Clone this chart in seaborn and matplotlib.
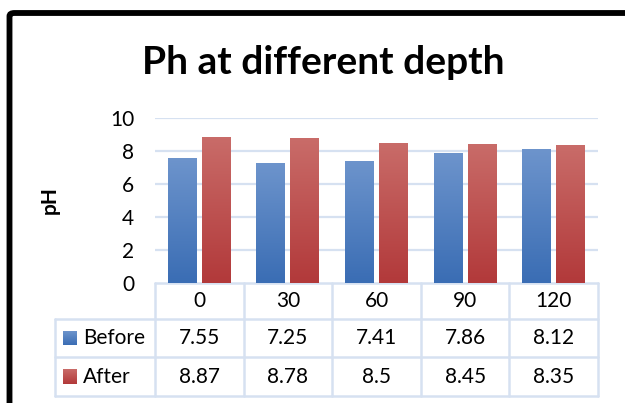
##############################################################################
#### pH at different depth - bar chart with data table
##############################################################################
import numpy as np
import pandas as pd
import seaborn as sns
import matplotlib.pyplot as plt
from matplotlib.lines import Line2D
from matplotlib.patches import Rectangle, FancyBboxPatch
from matplotlib.colors import LinearSegmentedColormap

###########
# Data
depths = ["0", "30", "60", "90", "120"]
before = [7.55, 7.25, 7.41, 7.86, 8.12]
after = [8.87, 8.78, 8.5, 8.45, 8.35]
series_names = ["Before", "After"]
yticks = [0, 2, 4, 6, 8, 10]

df = pd.DataFrame({
    "Depth": depths * 2,
    "pH": before + after,
    "Series": ["Before"] * len(depths) + ["After"] * len(depths),
})

###########
# Style
sns.set_theme(style="white")
plt.rcParams["font.family"] = ["Lato", "DejaVu Sans"]
plt.rcParams["text.color"] = "black"
plt.rcParams["axes.labelcolor"] = "black"
plt.rcParams["ytick.color"] = "black"

W, H = 625, 403
fig = plt.figure(figsize=(W / 100, H / 100), dpi=100)
ax = fig.add_axes([155 / W, 1 - 283 / H, 443 / W, 165 / H])

grid_col = "#D6E1F1"
blue_top, blue_bot = "#6D94CC", "#3A6DB4"
red_top, red_bot = "#C96C69", "#B2393A"
palette = {"Before": blue_bot, "After": red_bot}
fs = 15

sns.barplot(data=df, x="Depth", y="pH", hue="Series", order=depths,
            hue_order=series_names, palette=palette, width=0.77, gap=0.15,
            legend=False, ax=ax, zorder=3)

ax.set_ylim(0, 10)
ax.set_xlim(-0.5, len(depths) - 0.5)
ax.set_yticks(yticks)
ax.set_yticklabels([str(t) for t in yticks], fontsize=fs)
ax.tick_params(axis="y", length=0, pad=15)
ax.set_xticks([])
ax.set_xlabel("")
ax.set_ylabel("pH", fontsize=fs, fontweight="bold")
ax.yaxis.set_label_coords(-0.214, 0.5)
for s in ax.spines.values():
    s.set_visible(False)
for t in yticks[1:]:
    ax.axhline(t, color=grid_col, lw=1.6, zorder=1)

# Gradient fill for bars
grad = np.linspace(0, 1, 256).reshape(-1, 1)
cmaps = {
    "Before": LinearSegmentedColormap.from_list("b", [blue_bot, blue_top]),
    "After": LinearSegmentedColormap.from_list("r", [red_bot, red_top]),
}
bars = ax.patches[:2 * len(depths)]
for i, bar in enumerate(bars):
    name = series_names[i // len(depths)]
    x0, y0 = bar.get_x(), bar.get_y()
    w, h = bar.get_width(), bar.get_height()
    im = ax.imshow(grad, extent=[x0, x0 + w, y0, y0 + h], origin="lower",
                   cmap=cmaps[name], aspect="auto", zorder=3)
    im.set_clip_path(bar)
    bar.set_facecolor("none")
    bar.set_edgecolor("none")
ax.set_xlim(-0.5, len(depths) - 0.5)
ax.set_ylim(0, 10)

###########
# Data table below the axes
trans_x = ax.get_xaxis_transform()
row_y = [0, -0.218, -0.4485, -0.685]
leg_left = -0.2257
lk = dict(color=grid_col, lw=1.8, clip_on=False, zorder=2)

# horizontal lines
ax.add_line(Line2D([0, 1], [row_y[0]] * 2, transform=ax.transAxes, **lk))
for yy in row_y[1:]:
    ax.add_line(Line2D([leg_left, 1], [yy] * 2, transform=ax.transAxes, **lk))
# vertical lines
for i in range(len(depths) + 1):
    xb = i - 0.5
    ax.add_line(Line2D([xb, xb], [row_y[0], row_y[-1]], transform=trans_x, **lk))
ax.add_line(Line2D([leg_left] * 2, [row_y[1], row_y[-1]], transform=ax.transAxes, **lk))

rows = [depths, [f"{v:g}" for v in before], [f"{v:g}" for v in after]]
for r, vals in enumerate(rows):
    yc = (row_y[r] + row_y[r + 1]) / 2
    for i, v in enumerate(vals):
        ax.text(i, yc, v, transform=trans_x, ha="center", va="center",
                fontsize=fs, color="black")

# legend keys inside the table (small gradient squares)
for k, name in enumerate(series_names):
    yc = (row_y[k + 1] + row_y[k + 2]) / 2
    sq_h = 14 / 165
    sq_w = 14 / 443
    key = Rectangle((-0.208, yc - sq_h / 2), sq_w, sq_h, transform=ax.transAxes,
                    facecolor="none", edgecolor="none", clip_on=False)
    ax.add_patch(key)
    kim = ax.imshow(grad, extent=[-0.208, -0.208 + sq_w, yc - sq_h / 2, yc + sq_h / 2],
                    origin="lower", cmap=cmaps[name], aspect="auto",
                    transform=ax.transAxes, clip_on=False, zorder=3)
    kim.set_clip_path(key)
    ax.text(-0.1625, yc, name, transform=ax.transAxes, ha="left", va="center",
            fontsize=fs, color="black")
ax.set_xlim(-0.5, len(depths) - 0.5)
ax.set_ylim(0, 10)

###########
# Title and outer frame
fig.text(323 / W, 1 - 62 / H, "Ph at different depth", ha="center", va="center",
         fontsize=28, fontweight="bold", color="black")
frame = FancyBboxPatch((9.5 / W, -0.2), 1.2, 1 - 13 / H + 0.2,
                       boxstyle="round,pad=0,rounding_size=0.008",
                       transform=fig.transFigure, facecolor="none",
                       edgecolor="black", lw=4.2, clip_on=False)
fig.add_artist(frame)

fig.savefig("out.png", dpi=100)
